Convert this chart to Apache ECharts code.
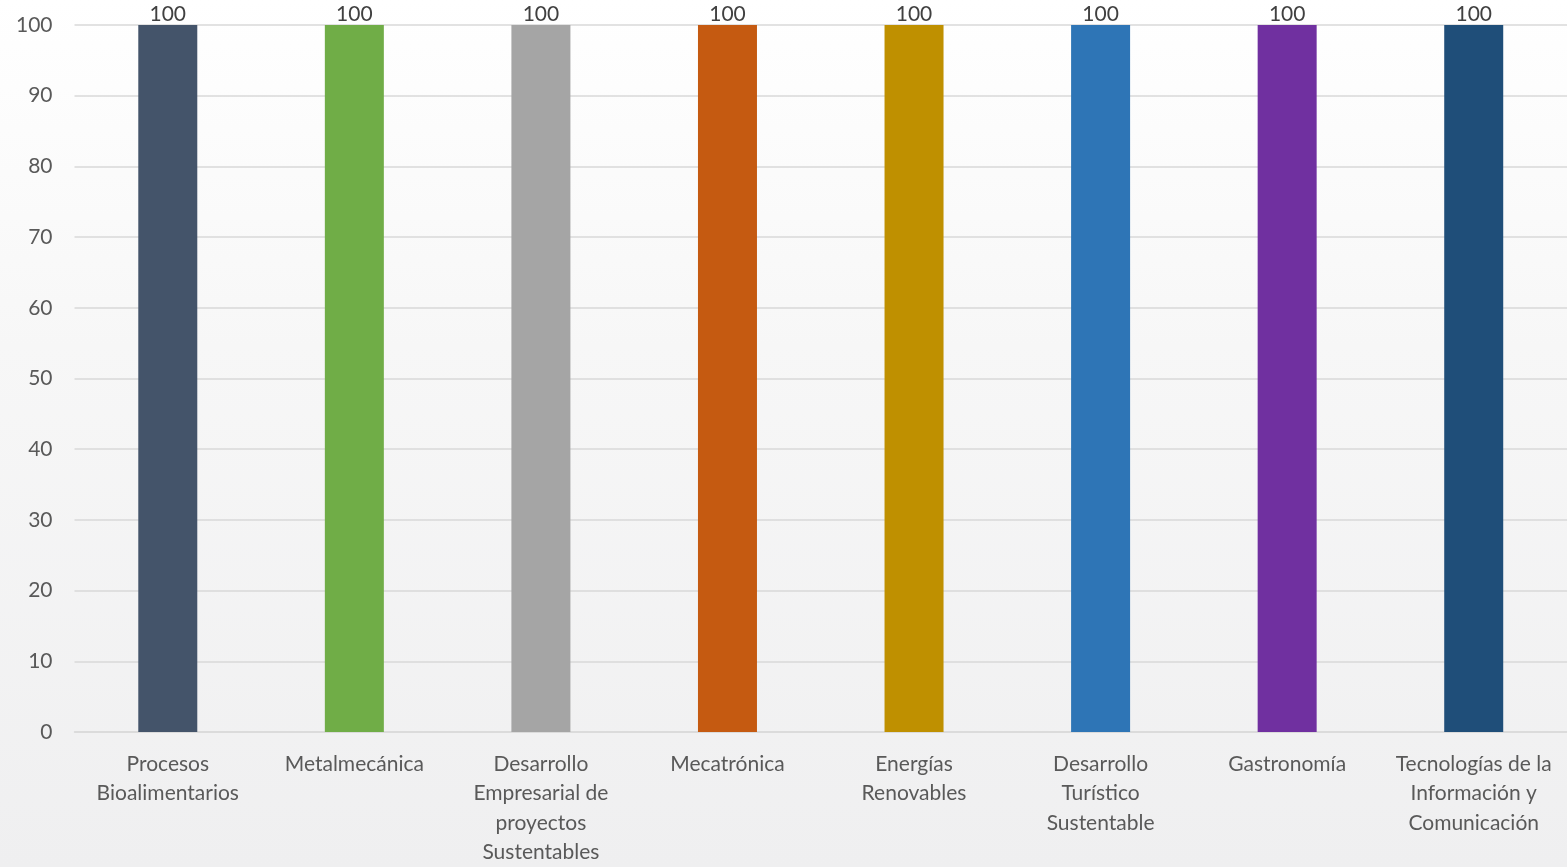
<!DOCTYPE html>
<html><head><meta charset="utf-8">
<script src="https://cdn.jsdelivr.net/npm/echarts@6/dist/echarts.min.js"></script>
<style>html,body{margin:0;padding:0;overflow:hidden;}#c{width:1567px;height:867px;background:linear-gradient(to bottom,#ffffff 0%,#f7f7f7 40%,#efeff0 100%);}</style>
</head><body><div id="c"></div>
<script>
const categories = ["Procesos\nBioalimentarios","Metalmecánica","Desarrollo\nEmpresarial de\nproyectos\nSustentables","Mecatrónica","Energías\nRenovables","Desarrollo\nTurístico\nSustentable","Gastronomía","Tecnologías de la\nInformación y\nComunicación"];
const values = [100,100,100,100,100,100,100,100];
const colors = ["#44546A","#70AD47","#A5A5A5","#C55A11","#BF9000","#2E75B6","#7030A0","#1F4E79"];
const yTicks = {min:0,max:100,interval:10};
const font = "Lato, 'Open Sans', sans-serif";
const chart = echarts.init(document.getElementById('c'), null, {width:1567, height:867});
chart.setOption({
  backgroundColor:'transparent',
  animation:false,
  grid:{left:74.5,right:-3.5,top:25,bottom:132,containLabel:false},
  xAxis:{type:'category',data:categories,
    axisLine:{show:true,lineStyle:{color:'#d9d9d9',width:1.5}},
    axisTick:{show:false},
    axisLabel:{color:'#595959',fontSize:21,fontFamily:font,lineHeight:29.5,margin:17,interval:0}},
  yAxis:{type:'value',min:yTicks.min,max:yTicks.max,interval:yTicks.interval,
    axisLine:{show:false},axisTick:{show:false},
    splitLine:{lineStyle:{color:'#d9d9d9',width:1.5}},
    axisLabel:{color:'#595959',fontSize:21,fontFamily:font,margin:22}},
  series:[{type:'bar',barWidth:59,
    data:values.map((v,i)=>({value:v,itemStyle:{color:colors[i]}})),
    label:{show:true,position:'top',distance:0,color:'#404040',fontSize:21,fontFamily:font}}]
});
</script></body></html>
